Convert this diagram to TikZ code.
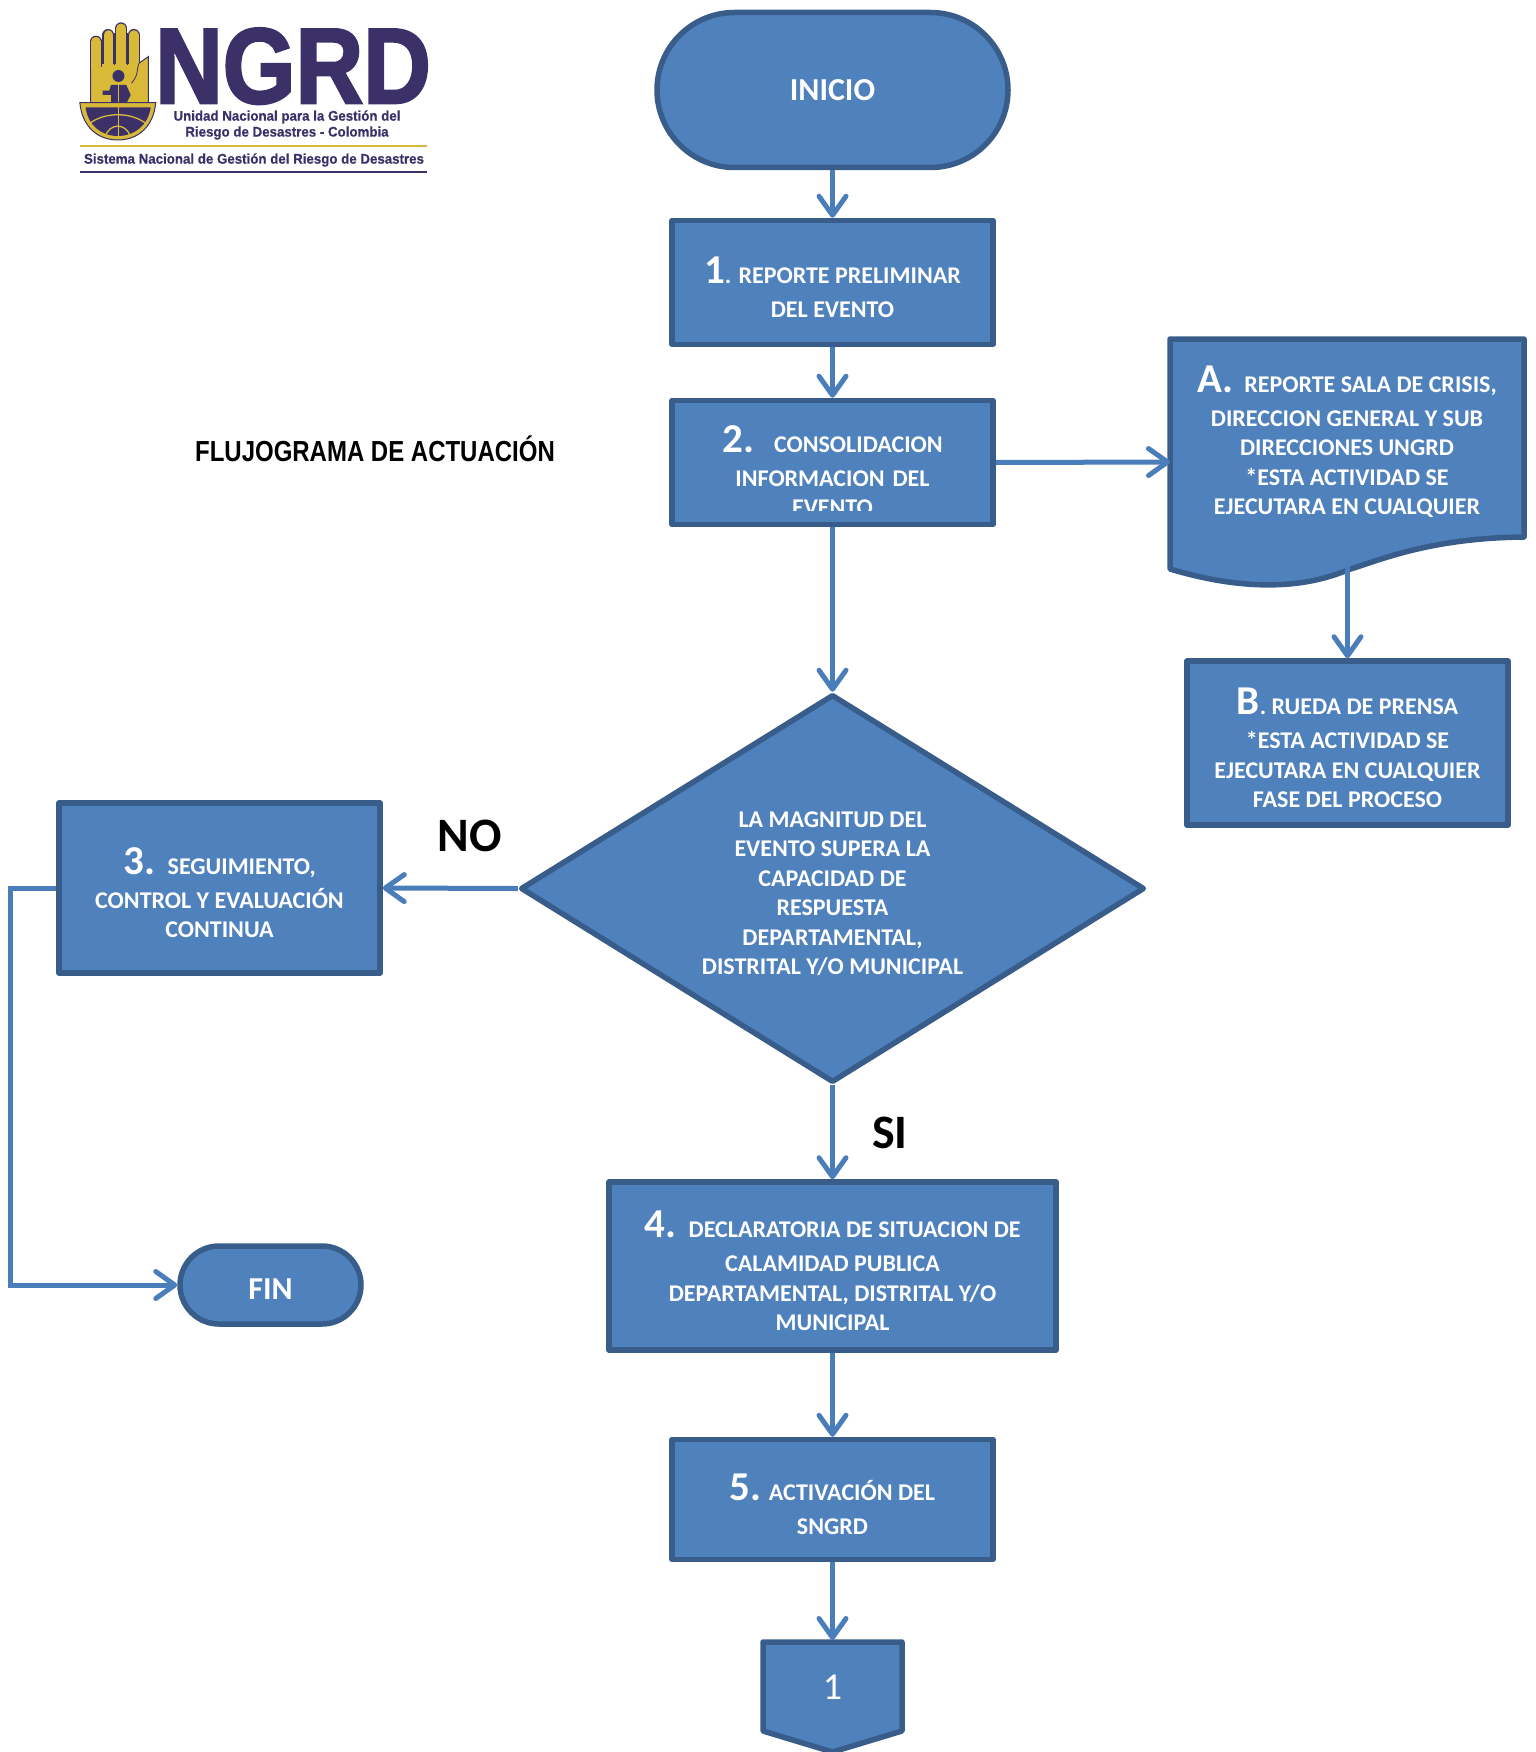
\documentclass[tikz,border=0pt]{standalone}
\usepackage{fontspec}
\setmainfont{Carlito}
\newfontfamily\lib{Liberation Sans}
\newfontfamily\libfat[FakeBold=2.5]{Liberation Sans Bold}
\newfontfamily\libmed[FakeBold=0.6]{Liberation Sans Bold}
\usetikzlibrary{shapes.geometric,shapes.misc,arrows.meta}
\definecolor{shapefill}{HTML}{4F81BD}
\definecolor{shapeline}{HTML}{385D8A}
\definecolor{conn}{HTML}{4A7EBB}
\definecolor{ngpurple}{HTML}{3B3068}
\definecolor{ngyellow}{HTML}{D9B938}
\newcommand{\bigN}[1]{\rule{0pt}{36pt}{\fontsize{41}{30}\selectfont #1}}
\newcommand{\gapL}{\\[5pt]}
\tikzset{
  x=1pt,y=-1pt,
  flow/.style={draw=shapeline,fill=shapefill,line width=5.5pt,line join=round,text=white,font=\bfseries\fontsize{24}{29.4}\selectfont,align=center,inner sep=0pt},
  procbox/.style={flow,rectangle},
  flowtext/.style={text=white,font=\bfseries\fontsize{24}{29.4}\selectfont,align=center,inner sep=0pt},
  link/.style={draw=conn,line width=5pt,-{Straight Barb[length=19pt,width=27pt,line cap=round,line join=round]}},
  answer/.style={font=\bfseries\fontsize{48}{50}\selectfont,inner sep=0pt},
  logotext/.style={text=ngpurple,font=\libmed\fontsize{14}{14}\selectfont,inner sep=0pt,transform shape,xscale=.95}
}
\begin{document}
\begin{tikzpicture}
\useasboundingbox (0,0) rectangle (1535,1752);
% logo
\begin{scope}[shift={(50pt,0pt)},x=.339pt,y=-.3333pt]
  \foreach \fx/\ftop in {135/125,172/105,210/85,247/105}
    \draw[ngpurple,line width=12pt,line cap=round] (\fx,\ftop) -- (\fx,210);
  \draw[ngpurple,fill=ngyellow,line width=1pt] (120,190) -- (262,190) -- (290,170) -- (290,310) -- (120,310) -- cycle;
  \foreach \fx/\ftop in {135/125,172/105,210/85,247/105}
    \draw[ngyellow,line width=9.6pt,line cap=round] (\fx,\ftop) -- (\fx,205);
  \draw[ngpurple,line width=1pt] (153,120) -- (153,200) (191,100) -- (191,195) (229,100) -- (229,195);
  \draw[ngpurple,line width=.8pt] (262,190) .. controls (255,210) and (262,225) .. (240,250);
  \fill[ngpurple] (202,228) circle[radius=6pt];
  \fill[ngpurple] (180,255) -- (225,255) -- (238,285) -- (225,310) -- (180,310) -- (180,285) -- (155,285) -- (155,272) -- (175,272) -- cycle;
  \draw[ngyellow,line width=1.4pt] (202,245) -- (202,310);
  \draw[ngpurple,fill=ngyellow,line width=1pt] (88,308) -- (312,308) .. controls (305,380) and (260,420) .. (200,420) .. controls (140,420) and (95,380) .. (88,308) -- cycle;
  \fill[ngpurple] (105,322) -- (297,322) .. controls (290,375) and (250,408) .. (200,408) .. controls (150,408) and (112,375) .. (105,322) -- cycle;
  \draw[ngyellow,line width=1.3pt] (115,372) .. controls (160,335) and (240,335) .. (285,372);
  \draw[ngyellow,line width=1.3pt] (163,410) .. controls (175,368) and (225,368) .. (237,410);
  \draw[ngyellow,line width=1.4pt] (202,310) -- (202,415);
\end{scope}
\node[text=ngpurple,font=\libfat\fontsize{107}{107}\selectfont,inner sep=0pt,text height=76pt,text depth=0pt,transform shape,xscale=.875] (ngrd) at (293,65) {NGRD};
\node[logotext] (ung1) at (287,117) {Unidad Nacional para la Gestión del};
\node[logotext] (ung2) at (287,133) {Riesgo de Desastres - Colombia};
\node[logotext] (ung3) at (254,160) {Sistema Nacional de Gestión del Riesgo de Desastres};
\path[draw=ngyellow,line width=1.6pt] (80,146) -- (427,146);
\path[draw=ngpurple,line width=1.6pt] (80,172) -- (427,172);
% title
\node[font=\lib\bfseries\fontsize{29}{30}\selectfont,inner sep=0pt,transform shape,xscale=.827] (title) at (375,449) {FLUJOGRAMA DE ACTUACIÓN};
% flow nodes
\node[flow,rounded rectangle,minimum width=351pt,minimum height=155pt,font=\bfseries\fontsize{32}{33}\selectfont] (inicio) at (832.5,90) {INICIO};
\node[procbox,minimum width=321pt,minimum height=124pt] (b1) at (832.5,282.5) {\bigN{1}. REPORTE PRELIMINAR\gapL DEL EVENTO};
\node[procbox,minimum width=321pt,minimum height=124pt] (b2) at (832.5,462.5) {};
\begin{scope}
  \clip (675,402) rectangle (990,510);
  \node[flowtext,text width=316pt] (b2t) at (832.5,466) {\bigN{2.} \ CONSOLIDACION\gapL INFORMACION DEL\\EVENTO};
\end{scope}
% document A
\coordinate (Aw) at (1170,462);
\coordinate (As) at (1347.5,566);
\path[draw=shapeline,fill=shapefill,line width=5.5pt,line join=round] (1170,339) -- (1524,339) -- (1524,537)
  .. controls (1430,538) and (1380,560) .. (1347.5,570)
  .. controls (1300,590) and (1240,590) .. (1170,569) -- cycle;
\node[flowtext] (At) at (1347,437) {\bigN{A.} \ REPORTE SALA DE CRISIS,\gapL DIRECCION GENERAL Y SUB\\DIRECCIONES UNGRD\\*ESTA ACTIVIDAD SE\\EJECUTARA EN CUALQUIER};
\node[procbox,minimum width=321pt,minimum height=164pt] (B) at (1347.5,743) {\bigN{B}. RUEDA DE PRENSA\gapL *ESTA ACTIVIDAD SE\\EJECUTARA EN CUALQUIER\\FASE DEL PROCESO};
\node[flow,diamond,aspect=1.6,minimum width=624pt,minimum height=388pt] (dec) at (832.5,888.5) {\rule{0pt}{26pt}LA MAGNITUD DEL\\EVENTO SUPERA LA\\CAPACIDAD DE\\RESPUESTA\\DEPARTAMENTAL,\\DISTRITAL Y/O MUNICIPAL};
\node[procbox,minimum width=321pt,minimum height=170pt] (b3) at (219.5,888) {\bigN{3.} \ SEGUIMIENTO,\gapL CONTROL Y EVALUACIÓN\\CONTINUA};
\node[flow,rounded rectangle,minimum width=181pt,minimum height=78pt,font=\bfseries\fontsize{32}{33}\selectfont,text height=33pt,text depth=4pt] (fin) at (270.5,1285) {FIN};
\node[procbox,minimum width=447pt,minimum height=168pt] (b4) at (832.5,1266) {\bigN{4.} \ DECLARATORIA DE SITUACION DE\gapL CALAMIDAD PUBLICA\\DEPARTAMENTAL, DISTRITAL Y/O\\MUNICIPAL};
\node[procbox,minimum width=321pt,minimum height=120pt] (b5) at (832.5,1499.5) {\bigN{5.} ACTIVACIÓN DEL\gapL SNGRD};
\path[draw=shapeline,fill=shapefill,line width=5.5pt,line join=round] (763,1642) -- (902,1642) -- (902,1731) -- (832.5,1752) -- (763,1731) -- cycle;
\coordinate (off) at (832.5,1640);
\node[text=white,font=\fontsize{38}{40}\selectfont,inner sep=0pt] (one) at (832.5,1687) {1};
% labels
\node[answer] (no) at (470,836) {NO};
\node[answer] (si) at (890,1133) {SI};
% connectors
\coordinate (turn1) at (10,888);
\coordinate (turn2) at (10,1285);
\draw[link] (inicio.south) -- (b1.north);
\draw[link] (b1.south) -- (b2.north);
\draw[link] (b2.east) -- (Aw);
\draw[link] (As) -- (B.north);
\draw[link] (b2.south) -- (dec.north);
\draw[link] (dec.west) -- (b3.east);
\draw[link] (dec.south) -- (b4.north);
\draw[link] (b4.south) -- (b5.north);
\draw[link] (b5.south) -- (off);
\draw[link] (b3.west) -- (turn1) -- (turn2) -- (fin.west);
\end{tikzpicture}
\end{document}
